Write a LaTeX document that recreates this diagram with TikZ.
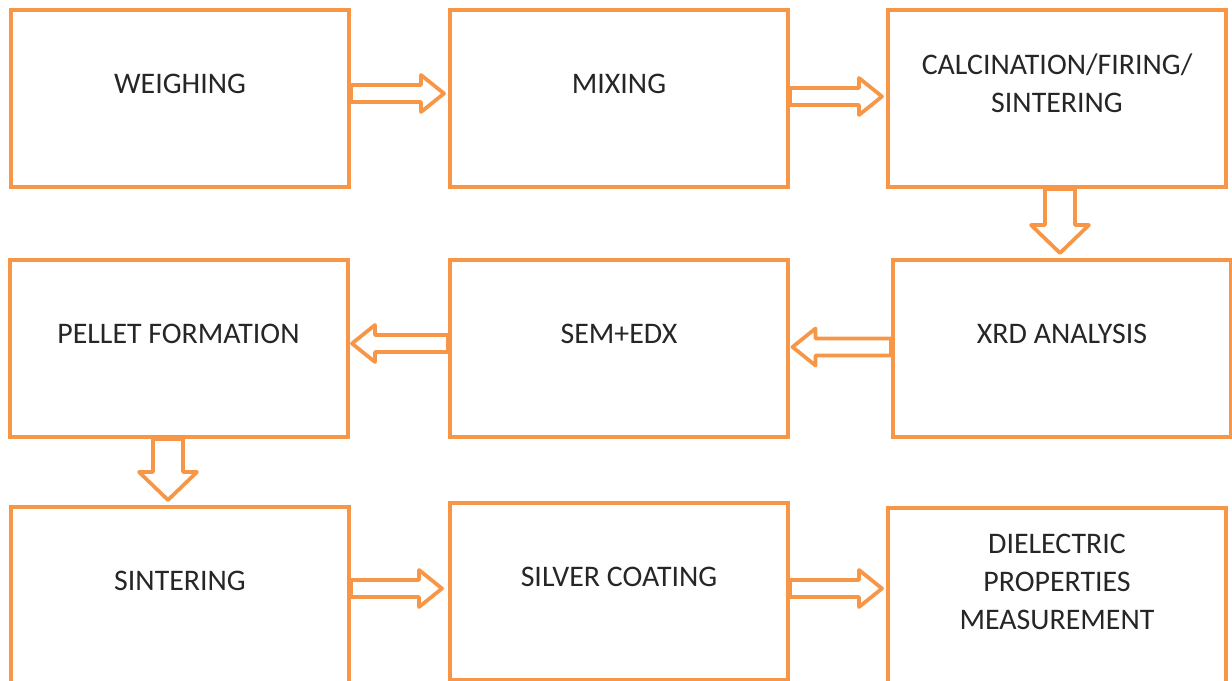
\documentclass[tikz,border=0pt]{standalone}
\usepackage{fontspec}
\setmainfont{Carlito}
\usetikzlibrary{positioning,calc}
\definecolor{boxorange}{HTML}{F79646}

\begin{document}
\begin{tikzpicture}[%
    node distance=1.38cm and 1.94cm,
    stage/.style={rectangle, draw=boxorange, line width=0.08cm, minimum width=6.76cm, minimum height=3.54cm, inner sep=0pt},
    stagetext/.style={anchor=center, yshift=-1.51cm, align=center, font=\fontsize{17}{21.6}\selectfont, text=black!85},
    % hollow block arrow: half shaft width, half head width, head length
    hollow/.style n args={3}{draw=boxorange, line width=0.075cm, fill=white, line join=round,
      to path={let \p1=(\tikztostart), \p2=(\tikztotarget),
          \n1={veclen(\x2-\x1,\y2-\y1)}, \n2={(\x2-\x1)/\n1}, \n3={(\y2-\y1)/\n1} in
        ({\x1-#1*\n3}, {\y1+#1*\n2})
        -- ({\x1+(\n1-#3)*\n2-#1*\n3}, {\y1+(\n1-#3)*\n3+#1*\n2})
        -- ({\x1+(\n1-#3)*\n2-#2*\n3}, {\y1+(\n1-#3)*\n3+#2*\n2})
        -- (\x2,\y2)
        -- ({\x1+(\n1-#3)*\n2+#2*\n3}, {\y1+(\n1-#3)*\n3-#2*\n2})
        -- ({\x1+(\n1-#3)*\n2+#1*\n3}, {\y1+(\n1-#3)*\n3-#1*\n2})
        -- ({\x1+#1*\n3}, {\y1-#1*\n2}) -- cycle}},
    harrow/.style={hollow={0.17cm}{0.37cm}{0.46cm}},
    varrow/.style={hollow={0.30cm}{0.58cm}{0.56cm}},
  ]
  \path[use as bounding box, clip] (0,0) rectangle (24.64,-13.62);

  % --- stages ---
  \node[stage, label={[stagetext]north:WEIGHING}] (wgh) at (3.60,-1.97) {};
  \node[stage, right=of wgh, label={[stagetext]north:MIXING}] (mix) {};
  \node[stage, right=1.92cm of mix, label={[stagetext]north:{CALCINATION/FIRING/\\SINTERING}}] (cal) {};

  \node[stage, below=of wgh, xshift=-0.03cm, label={[stagetext]north:PELLET FORMATION}] (pel) {};
  \node[stage, below=of mix, label={[stagetext]north:SEM+EDX}] (sem) {};
  \node[stage, below=of cal, xshift=0.1cm, label={[stagetext]north:XRD ANALYSIS}] (xrd) {};

  \node[stage, below=1.32cm of pel, xshift=0.03cm, label={[stagetext]north:SINTERING}] (sin) {};
  \node[stage, below=1.24cm of sem, label={[stagetext]north:SILVER COATING}] (sil) {};
  \node[stage, below=1.34cm of xrd, xshift=-0.1cm, label={[stagetext]north:{DIELECTRIC\\PROPERTIES\\MEASUREMENT}}] (die) {};

  % --- arrows ---
  \draw[harrow] ([yshift=0.1cm]wgh.east) to ([shift={(-0.08,0.1)}]mix.west);
  \draw[harrow] ([yshift=0.04cm]mix.east) to ([shift={(-0.08,0.04)}]cal.west);
  \draw[varrow] ([xshift=0.06cm]cal.south) to ($(cal.south |- xrd.north)+(0.06,0.1)$);
  \draw[harrow] ([yshift=0.03cm]xrd.west) to ([shift={(0.05,0.03)}]sem.east);
  \draw[harrow] ([yshift=0.1cm]sem.west) to ([shift={(0.05,0.1)}]pel.east);
  \draw[varrow] ([xshift=-0.21cm]pel.south) to ($(pel.south |- sin.north)+(-0.21,0.1)$);
  \draw[harrow] ([yshift=0.14cm]sin.east) to ([shift={(-0.12,0.06)}]sil.west);
  \draw[harrow] ([yshift=0.06cm]sil.east) to ([shift={(-0.08,0.16)}]die.west);
\end{tikzpicture}
\end{document}
